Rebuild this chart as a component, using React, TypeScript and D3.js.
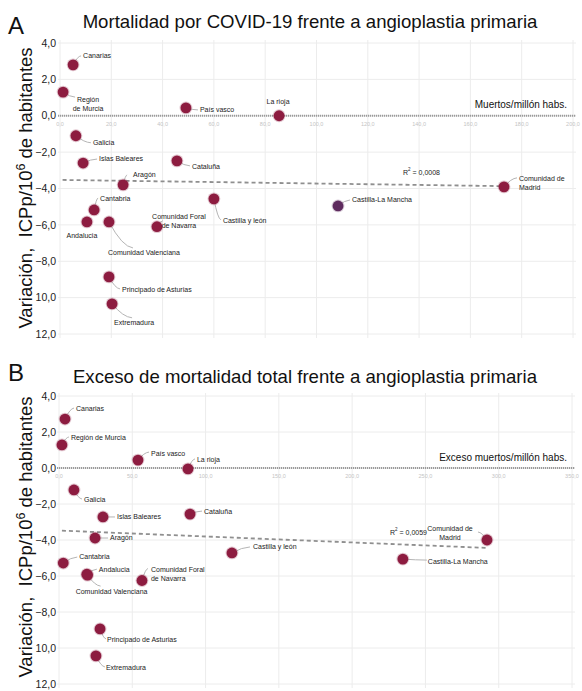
import React from "react";
import * as d3 from "d3";

// ---------- DATA ----------
const regions = [
  "Canarias", "Región de Murcia", "País vasco", "La rioja", "Galicia",
  "Islas Baleares", "Cataluña", "Aragón", "Cantabria", "Andalucia",
  "Comunidad Valenciana", "Comunidad Foral de Navarra", "Castilla y león",
  "Principado de Asturias", "Extremadura", "Castilla-La Mancha", "Comunidad de Madrid",
];
// Variation of primary angioplasty (ICPp / 10^6 inhabitants)
const variationA = [2.8, 1.3, 0.43, 0.0, -1.1, -2.6, -2.48, -3.8, -5.18, -5.84, -5.84, -6.1, -4.57, -8.86, -10.34, -4.96, -3.91];
const variationB = [2.72, 1.28, 0.44, -0.05, -1.22, -2.72, -2.56, -3.89, -5.28, -5.9, -5.95, -6.25, -4.72, -8.94, -10.44, -5.06, -4.0];
// COVID-19 deaths per million inhabitants
const covidDeaths = [5.1, 1.2, 49.1, 85.4, 6.2, 9.0, 45.6, 24.6, 13.3, 10.5, 19.1, 37.8, 60.0, 19.1, 20.3, 108.4, 173.1];
// Excess total deaths per million inhabitants
const excessDeaths = [4.1, 2.0, 53.9, 88.0, 10.2, 30.0, 89.4, 24.6, 2.9, 19.0, 19.5, 56.6, 118.0, 28.0, 25.2, 234.6, 292.0];

const trendA = [{ x: 1, y: -3.53 }, { x: 173, y: -3.87 }];
const trendB = [{ x: 2, y: -3.48 }, { x: 292, y: -4.44 }];

const yTicks = [4, 2, 0, -2, -4, -6, -8, -10, -12];
const yTickLabels = ["4,0", "2,0", "0,0", "−2,0", "−4,0", "−6,0", "−8,0", "10,0", "12,0"];
const xTicksA = [0, 20, 40, 60, 80, 100, 120, 140, 160, 180, 200];
const xTickLabelsA = ["0,0", "20,0", "40,0", "60,0", "80,0", "100,0", "120,0", "140,0", "160,0", "180,0", "200,0"];
const xTicksB = [0, 50, 100, 150, 200, 250, 300, 350];
const xTickLabelsB = ["0,0", "50,0", "100,0", "150,0", "200,0", "250,0", "300,0", "350,0"];

// ---------- LAYOUT (label placement relative to each dot, px) ----------
type Lab = { lines: string[]; dx: number; dy: number; anchor: string; lx?: number; ly?: number };
const labelsA: Lab[] = [
  { lines: ["Canarias"], dx: 10, dy: -9, anchor: "start", lx: 8, ly: -9 },
  { lines: ["Región", "de Murcia"], dx: 25, dy: 7, anchor: "middle", lx: 12, ly: 5 },
  { lines: ["País vasco"], dx: 14, dy: 2, anchor: "start", lx: 12, ly: 2 },
  { lines: ["La rioja"], dx: -1, dy: -14, anchor: "middle" },
  { lines: ["Galicia"], dx: 17, dy: 7, anchor: "start", lx: 15, ly: 7 },
  { lines: ["Islas Baleares"], dx: 16, dy: -4, anchor: "start", lx: 14, ly: -4 },
  { lines: ["Cataluña"], dx: 15, dy: 6, anchor: "start", lx: 13, ly: 5 },
  { lines: ["Aragón"], dx: 10, dy: -10, anchor: "start", lx: 4, ly: -10 },
  { lines: ["Cantabria"], dx: 6, dy: -11, anchor: "start", lx: 4, ly: -12 },
  { lines: ["Andalucia"], dx: -5, dy: 14, anchor: "middle" },
  { lines: ["Comunidad Valenciana"], dx: -1, dy: 31, anchor: "start", lx: 24, ly: 26 },
  { lines: ["Comunidad Foral", "de Navarra"], dx: 22, dy: -10, anchor: "middle", lx: 6, ly: -6 },
  { lines: ["Castilla y león"], dx: 9, dy: 22, anchor: "start", lx: 7, ly: 21 },
  { lines: ["Principado de Asturias"], dx: 13, dy: 13, anchor: "start", lx: 11, ly: 12 },
  { lines: ["Extremadura"], dx: 2, dy: 19, anchor: "start", lx: 20, ly: 14 },
  { lines: ["Castilla-La Mancha"], dx: 14, dy: -6, anchor: "start", lx: 12, ly: -6 },
  { lines: ["Comunidad de", "Madrid"], dx: 15, dy: -8, anchor: "start", lx: 13, ly: -9 },
];
const labelsB: Lab[] = [
  { lines: ["Canarias"], dx: 11, dy: -10, anchor: "start", lx: 9, ly: -11 },
  { lines: ["Región de Murcia"], dx: 9, dy: -7, anchor: "start", lx: 7, ly: -8 },
  { lines: ["País vasco"], dx: 13, dy: -7, anchor: "start", lx: 11, ly: -8 },
  { lines: ["La rioja"], dx: 9, dy: -9, anchor: "start", lx: 7, ly: -10 },
  { lines: ["Galicia"], dx: 10, dy: 10, anchor: "start", lx: 8, ly: 9 },
  { lines: ["Islas Baleares"], dx: 14, dy: 0, anchor: "start", lx: 12, ly: 0 },
  { lines: ["Cataluña"], dx: 14, dy: -3, anchor: "start", lx: 12, ly: -3 },
  { lines: ["Aragón"], dx: 15, dy: 0, anchor: "start", lx: 13, ly: 0 },
  { lines: ["Cantabria"], dx: 16, dy: -6, anchor: "start", lx: 14, ly: -6 },
  { lines: ["Andalucia"], dx: 12, dy: -5, anchor: "start", lx: 10, ly: -5 },
  { lines: ["Comunidad Valenciana"], dx: 24, dy: 16, anchor: "middle", lx: 13, ly: 11 },
  { lines: ["Comunidad Foral", "de Navarra"], dx: 9, dy: -11, anchor: "start", lx: 6, ly: -12 },
  { lines: ["Castilla y león"], dx: 21, dy: -6, anchor: "start", lx: 18, ly: -6 },
  { lines: ["Principado de Asturias"], dx: 7, dy: 11, anchor: "start", lx: 6, ly: 10 },
  { lines: ["Extremadura"], dx: 10, dy: 12, anchor: "start", lx: 9, ly: 11 },
  { lines: ["Castilla-La Mancha"], dx: 25, dy: 2, anchor: "start", lx: 24, ly: 1 },
  { lines: ["Comunidad de", "Madrid"], dx: -37, dy: -11, anchor: "middle", lx: -9, ly: -8 },
];

const FONT = "'Liberation Sans', Arial, Helvetica, sans-serif";
const DOT = "#8d1c40";
const DOT_PURPLE = "#5e2b5e";

type PanelProps = {
  letter: string;
  letterY: number;
  title: string;
  titleX: number;
  titleY: number;
  xs: number[];
  ys: number[];
  xDomain: [number, number];
  xRange: [number, number];
  yRange: [number, number];
  xTicks: number[];
  xTickLabels: string[];
  xTitle: string;
  xTitleY: number;
  trend: { x: number; y: number }[];
  r2: string;
  r2Pos: [number, number];
  labels: Lab[];
  purple: number[];
  yTitleCenter: number;
};

function Panel(p: PanelProps) {
  const x = d3.scaleLinear().domain(p.xDomain).range(p.xRange);
  const y = d3.scaleLinear().domain([4, -12]).range(p.yRange);
  const left = p.xRange[0] - 2;
  const right = p.xRange[1] + 3;
  const top = p.yRange[0] - 3;
  const bottom = p.yRange[1] + 4;
  const line = d3.line<{ x: number; y: number }>().x((d) => x(d.x)).y((d) => y(d.y));
  return (
    <g>
      <text x={8} y={p.letterY} fontFamily={FONT} fontSize={24} fill="#111">{p.letter}</text>
      <text x={p.titleX} y={p.titleY} textAnchor="middle" fontFamily={FONT} fontSize={18.6} fill="#111">{p.title}</text>
      <text
        transform={`translate(32,${p.yTitleCenter}) rotate(-90)`}
        textAnchor="middle"
        fontFamily={FONT}
        fontSize={18.5}
        fill="#111"
      >
        Variación,{"\u00a0\u00a0"}ICPp/10<tspan dy={-7.5} fontSize={12.5}>6</tspan>
        <tspan dy={7.5}>{" de habitantes"}</tspan>
      </text>
      {/* grid */}
      {yTicks.map((t) => (
        <line key={"h" + t} x1={left} x2={right} y1={y(t)} y2={y(t)} stroke="#ececec" strokeWidth={1} />
      ))}
      {p.xTicks.map((t) => (
        <line key={"v" + t} x1={x(t)} x2={x(t)} y1={top} y2={bottom} stroke="#ececec" strokeWidth={1} />
      ))}
      {/* y tick labels */}
      {yTicks.map((t, i) => (
        <text key={"yl" + t} x={56} y={y(t)} dy="0.35em" textAnchor="end" fontFamily={FONT} fontSize={10.5} fill="#222">
          {yTickLabels[i]}
        </text>
      ))}
      {/* zero axis */}
      <line x1={left} x2={right} y1={y(0)} y2={y(0)} stroke="#9a9a9a" strokeWidth={2.2} strokeDasharray="1.2,0.8" />
      {p.xTicks.map((t, i) => (
        <text key={"xl" + t} x={x(t)} y={y(0) + 10} textAnchor="middle" fontFamily={FONT} fontSize={5.5} fill="#c4c4c4">
          {p.xTickLabels[i]}
        </text>
      ))}
      <text x={567} y={p.xTitleY} textAnchor="end" fontFamily={FONT} fontSize={10} fill="#111">{p.xTitle}</text>
      {/* trend */}
      <path d={line(p.trend) || ""} fill="none" stroke="#8f8f8f" strokeWidth={1.8} strokeDasharray="4,3" />
      <text x={p.r2Pos[0]} y={p.r2Pos[1]} fontFamily={FONT} fontSize={7} fill="#222">
        R<tspan dy={-4} fontSize={4.5}>2</tspan><tspan dy={4}>{" = " + p.r2}</tspan>
      </text>
      {/* leaders */}
      {p.labels.map((l, i) => {
        if (l.lx === undefined || l.ly === undefined) return null;
        const cx = x(p.xs[i]);
        const cy = y(p.ys[i]);
        const ex = cx + l.lx;
        const ey = cy + l.ly;
        const qx = cx + l.lx * 0.55;
        const qy = cy + l.ly * 0.95;
        return <path key={"ld" + i} d={`M${cx},${cy} Q${qx},${qy} ${ex},${ey}`} fill="none" stroke="#b5b5b5" strokeWidth={1} />;
      })}
      {/* dots */}
      {p.xs.map((v, i) => (
        <g key={"dt" + i}>
          <circle cx={x(v)} cy={y(p.ys[i])} r={6.4} fill={p.purple.includes(i) ? DOT_PURPLE : DOT} opacity={0.25} />
          <circle cx={x(v)} cy={y(p.ys[i])} r={5.4} fill={p.purple.includes(i) ? DOT_PURPLE : DOT} />
        </g>
      ))}
      {/* labels */}
      {p.labels.map((l, i) => {
        const cx = x(p.xs[i]);
        const cy = y(p.ys[i]);
        return (
          <text key={"lb" + i} x={cx + l.dx} y={cy + l.dy} textAnchor={l.anchor} fontFamily={FONT} fontSize={7} fill="#1a1a1a">
            {l.lines.map((s, k) => (
              <tspan key={k} x={cx + l.dx} dy={k === 0 ? "0.35em" : 9}>{s}</tspan>
            ))}
          </text>
        );
      })}
    </g>
  );
}

export default function App() {
  return (
    <svg width={582} height={691} style={{ position: "absolute", left: 0, top: 0, background: "#fff" }}>
      <rect width={582} height={691} fill="#fff" />
      <Panel
        letter="A"
        letterY={34}
        title="Mortalidad por COVID-19 frente a angioplastia primaria"
        titleX={310}
        titleY={28}
        xs={covidDeaths}
        ys={variationA}
        xDomain={[0, 200]}
        xRange={[60, 573]}
        yRange={[43, 334]}
        xTicks={xTicksA}
        xTickLabels={xTickLabelsA}
        xTitle="Muertos/millón habs."
        xTitleY={108}
        trend={trendA}
        r2="0,0008"
        r2Pos={[403, 175]}
        labels={labelsA}
        purple={[15]}
        yTitleCenter={188}
      />
      <Panel
        letter="B"
        letterY={381}
        title="Exceso de mortalidad total frente a angioplastia primaria"
        titleX={305}
        titleY={383}
        xs={excessDeaths}
        ys={variationB}
        xDomain={[0, 350]}
        xRange={[59, 572]}
        yRange={[396, 684]}
        xTicks={xTicksB}
        xTickLabels={xTickLabelsB}
        xTitle="Exceso muertos/millón habs."
        xTitleY={461}
        trend={trendB}
        r2="0,0059"
        r2Pos={[390, 535]}
        labels={labelsB}
        purple={[]}
        yTitleCenter={537}
      />
    </svg>
  );
}
